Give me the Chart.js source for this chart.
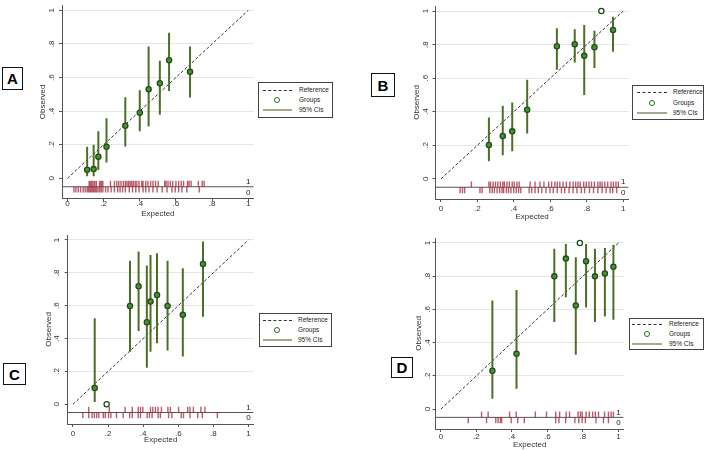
<!DOCTYPE html>
<html><head><meta charset="utf-8">
<script src="https://cdn.jsdelivr.net/npm/chart.js@4.4.1/dist/chart.umd.min.js"></script>
<style>
body{margin:0;width:708px;height:450px;background:#fff;position:relative;overflow:hidden;font-family:"Liberation Sans",Arial,sans-serif;}
canvas{position:absolute;}
.tag{position:absolute;border:1px solid #111;font-weight:bold;font-size:15px;display:flex;align-items:center;justify-content:center;background:#fff;box-sizing:border-box;color:#000;z-index:2;}
.leg{position:absolute;border:1px solid #444;background:#fff;box-sizing:border-box;z-index:2;}
.leg .t{position:absolute;font-size:6.5px;line-height:1;color:#222;transform:translateY(-50%);white-space:nowrap;}
.leg .dash{position:absolute;border-top:1px dashed #333;height:0;}
.leg .ci{position:absolute;border-top:2px solid #a7ab8c;height:0;transform:translateY(-1px);}
.leg .dot{position:absolute;width:4px;height:4px;border:1.3px solid #2d6a1f;border-radius:50%;transform:translate(-50%,-50%);}
</style></head><body>
<script>
// ---- data ----
const tickValues = [0, 0.2, 0.4, 0.6, 0.8, 1];
const tickLabels = ['0', '.2', '.4', '.6', '.8', '1'];
const legendLabels = ['Reference', 'Groups', '95% CIs'];
const panelLetters = ['A', 'B', 'C', 'D'];

const expA = [0.109,0.145,0.171,0.216,0.320,0.400,0.449,0.511,0.562,0.678];
const obsA = [0.051,0.055,0.129,0.188,0.313,0.391,0.530,0.566,0.703,0.634];
const loA  = [0.012,0.012,0.050,0.094,0.190,0.280,0.309,0.378,0.520,0.481];
const hiA  = [0.188,0.200,0.280,0.358,0.483,0.524,0.785,0.700,0.867,0.785];
const rug1A = [0.120,0.127,0.135,0.142,0.151,0.160,0.178,0.184,0.189,0.196,0.238,0.260,0.273,0.284,0.296,0.309,0.320,0.329,0.338,0.347,0.356,0.365,0.375,0.384,0.396,0.411,0.418,0.433,0.445,0.460,0.473,0.487,0.502,0.538,0.545,0.556,0.569,0.582,0.600,0.615,0.629,0.642,0.664,0.673,0.684,0.724,0.745,0.756];
const rug0A = [0.036,0.047,0.060,0.073,0.087,0.098,0.109,0.116,0.124,0.131,0.138,0.145,0.153,0.160,0.169,0.178,0.187,0.196,0.211,0.224,0.242,0.260,0.278,0.291,0.305,0.320,0.342,0.360,0.378,0.396,0.418,0.433,0.451,0.473,0.496,0.524,0.551,0.578,0.596,0.615,0.633,0.660,0.729];

const expB = [0.263,0.339,0.391,0.473,0.636,0.734,0.786,0.842,0.880,0.944];
const obsB = [0.202,0.255,0.283,0.412,0.790,0.802,0.733,0.784,1.000,0.887];
const loB  = [0.105,0.140,0.164,0.270,0.650,0.693,0.500,0.660,null,0.758];
const hiB  = [0.366,0.436,0.455,0.590,0.897,0.891,0.917,0.883,null,0.966];
const rug1B = [0.167,0.263,0.272,0.286,0.299,0.312,0.326,0.339,0.348,0.362,0.375,0.391,0.402,0.417,0.429,0.489,0.516,0.543,0.565,0.591,0.607,0.625,0.638,0.652,0.670,0.688,0.707,0.725,0.739,0.752,0.764,0.783,0.797,0.812,0.826,0.842,0.861,0.873,0.884,0.899,0.915,0.933,0.946,0.960,0.973];
const rug0B = [0.105,0.118,0.130,0.214,0.226,0.268,0.281,0.293,0.308,0.322,0.335,0.344,0.359,0.371,0.384,0.399,0.413,0.426,0.438,0.484,0.498,0.516,0.534,0.553,0.576,0.598,0.616,0.638,0.661,0.679,0.703,0.725,0.746,0.770,0.788,0.815,0.837,0.861,0.884,0.906,0.928,0.942,0.964];

const expC = [0.124,0.192,0.325,0.374,0.421,0.442,0.479,0.539,0.626,0.741];
const obsC = [0.099,0.000,0.598,0.718,0.499,0.625,0.665,0.598,0.544,0.854];
const loC  = [0.014,null,0.320,0.446,0.223,0.320,0.371,0.327,0.290,0.533];
const hiC  = [0.523,null,0.874,0.929,0.844,0.909,0.919,0.874,0.828,0.990];
const rug1C = [0.090,0.207,0.297,0.338,0.372,0.385,0.398,0.442,0.455,0.470,0.485,0.504,0.541,0.555,0.602,0.654,0.667,0.686,0.729,0.752];
const rug0C = [0.056,0.090,0.109,0.122,0.135,0.147,0.173,0.184,0.203,0.216,0.248,0.286,0.323,0.338,0.372,0.385,0.423,0.436,0.451,0.485,0.498,0.545,0.564,0.617,0.630,0.667,0.711,0.737,0.823];

const expD = [0.290,0.426,0.639,0.704,0.760,0.783,0.818,0.868,0.924,0.972];
const obsD = [0.231,0.333,0.799,0.906,0.624,1.000,0.890,0.799,0.817,0.857];
const loD  = [0.062,0.122,0.524,0.673,0.327,null,0.612,0.524,0.558,0.538];
const hiD  = [0.653,0.717,0.966,0.994,0.914,null,0.994,0.966,0.970,0.990];
const rug1D = [0.229,0.266,0.387,0.424,0.532,0.595,0.647,0.669,0.706,0.725,0.773,0.786,0.796,0.818,0.836,0.855,0.870,0.888,0.922,0.944,0.959,0.972];
const rug0D = [0.154,0.257,0.309,0.322,0.335,0.342,0.396,0.433,0.470,0.647,0.665,0.703,0.755,0.777,0.796,0.814,0.874,0.916,0.944];

// ---- layout (pixel targets) ----
const layouts = [
  {top:0,   area:{L:62,    R:256,   T:2,   B:198.5}, yTitleX:43,  xTitleY:214,   xPad:-2.1, yPad:4,
   tag:{x:2,y:67,w:21,h:23}, leg:{x:258,y:82,w:75,h:36,rows:[90,100,110],s0:263,s1:292,dot:277,tx:299}},
  {top:0,   area:{L:435.5, R:630.5, T:6,   B:199},   yTitleX:417, xTitleY:216.7, xPad:2.2,  yPad:3.2,
   tag:{x:371,y:73,w:24,h:24}, leg:{x:632,y:85,w:72,h:35,rows:[92,103,113],s0:637,s1:667,dot:652,tx:673}},
  {top:225, area:{L:67.7,  R:255.6, T:235, B:424},   yTitleX:49,  xTitleY:440,   xPad:2.2,  yPad:4.7,
   tag:{x:3,y:363,w:23,h:22}, leg:{x:259,y:313,w:73,h:34,rows:[319.5,329.5,340],s0:263,s1:292,dot:277,tx:298}},
  {top:225, area:{L:435.6, R:625.7, T:238, B:429},   yTitleX:419, xTitleY:445,   xPad:-0.1, yPad:1.3,
   tag:{x:391,y:357,w:22,h:21}, leg:{x:629,y:318,w:75,h:32,rows:[323.5,333.5,343.5],s0:632,s1:662,dot:647,tx:669}}
];

const series = [
  {exp:expA, obs:obsA, lo:loA, hi:hiA, r1:rug1A, r0:rug0A},
  {exp:expB, obs:obsB, lo:loB, hi:hiB, r1:rug1B, r0:rug0B},
  {exp:expC, obs:obsC, lo:loC, hi:hiC, r1:rug1C, r0:rug0C},
  {exp:expD, obs:obsD, lo:loD, hi:hiD, r1:rug1D, r0:rug0D}
];

const X_MIN = -0.03, X_MAX = 1.03, Y_MIN = -0.12, Y_MAX = 1.03;
const RUG_BASE = -0.05, RUG_UP = -0.015, RUG_DOWN = -0.085;
const HALF_LH = 4.8; // font 8 * 1.2 / 2
const FONT = '"Liberation Sans", Arial, sans-serif';

function segs(xs, a, b) {
  const d = [];
  xs.forEach((x, i) => {
    const y0 = Array.isArray(a) ? a[i] : a;
    const y1 = Array.isArray(b) ? b[i] : b;
    if (y0 == null || y1 == null) return;
    d.push({x, y:y0}, {x, y:y1}, {x, y:null});
  });
  return d;
}

const rugLabels = {
  id: 'rugLabels',
  afterDatasetsDraw(chart) {
    const {ctx, scales:{x, y}} = chart;
    ctx.save();
    ctx.font = '8px ' + FONT;
    ctx.fillStyle = '#222';
    ctx.textAlign = 'center';
    ctx.textBaseline = 'middle';
    ctx.fillText('1', x.getPixelForValue(1.0), y.getPixelForValue(-0.02));
    ctx.fillText('0', x.getPixelForValue(1.0), y.getPixelForValue(-0.085));
    ctx.restore();
  }
};

layouts.forEach((lay, k) => {
  const s = series[k];
  const a = lay.area;
  const left = Math.round(lay.yTitleX - HALF_LH);
  const top = lay.top;
  const width = Math.round(a.R + 3 - left);
  const height = Math.round(lay.xTitleY + HALF_LH - top);
  const cv = document.createElement('canvas');
  cv.width = width; cv.height = height;
  cv.style.left = left + 'px'; cv.style.top = top + 'px';
  cv.style.width = width + 'px'; cv.style.height = height + 'px';
  document.body.appendChild(cv);
  const yW = a.L - left;
  const xH = top + height - a.B;

  new Chart(cv.getContext('2d'), {
    type: 'scatter',
    data: {
      datasets: [
        {label:'Groups', data: s.exp.map((x,i)=>({x, y:s.obs[i]})), showLine:false,
         pointRadius:2.6, pointBorderWidth:1.3, pointBorderColor:'#1f4f16',
         pointBackgroundColor:(c)=> (s.lo[c.dataIndex] == null ? '#ffffff' : '#4c8f36'), order:0},
        {label:'95% CIs', data: segs(s.exp, s.lo, s.hi), showLine:true, borderColor:'#4d6e26', borderWidth:2,
         pointRadius:0, spanGaps:false, order:1},
        {label:'Reference', data:[{x:0,y:0},{x:1,y:1}], showLine:true, borderColor:'#333', borderWidth:1,
         borderDash:[3,2], pointRadius:0, order:2},
        {label:'rug1', data: segs(s.r1, RUG_BASE, RUG_UP), showLine:true, borderColor:'rgba(160,28,50,0.72)',
         borderWidth:1.4, pointRadius:0, spanGaps:false, order:3},
        {label:'rug0', data: segs(s.r0, RUG_BASE, RUG_DOWN), showLine:true, borderColor:'rgba(160,28,50,0.72)',
         borderWidth:1.4, pointRadius:0, spanGaps:false, order:3},
        {label:'base', data:[{x:X_MIN,y:RUG_BASE},{x:X_MAX,y:RUG_BASE}], showLine:true, borderColor:'#555',
         borderWidth:1, pointRadius:0, order:4}
      ]
    },
    options: {
      responsive:false, animation:false, events:[],
      layout:{padding:{top:a.T - top, right:left + width - a.R, left:0, bottom:0}},
      plugins:{legend:{display:false}, tooltip:{enabled:false}},
      scales:{
        x:{type:'linear', min:X_MIN, max:X_MAX,
           afterBuildTicks:(sc)=>{ sc.ticks = tickValues.map(v=>({value:v})); },
           afterFit:(sc)=>{ sc.height = xH; sc.paddingLeft = 0; sc.paddingRight = 0; },
           ticks:{autoSkip:false, maxRotation:0, minRotation:0, padding:lay.xPad, color:'#333',
                  font:{size:8, family:FONT}, callback:(v,i)=>tickLabels[i]},
           grid:{drawOnChartArea:false, drawTicks:true, tickLength:3, tickColor:'#555'},
           border:{color:'#555', width:1},
           title:{display:true, text:'Expected', padding:0, color:'#333', font:{size:8, family:FONT}}},
        y:{type:'linear', min:Y_MIN, max:Y_MAX,
           afterBuildTicks:(sc)=>{ sc.ticks = tickValues.map(v=>({value:v})); },
           afterFit:(sc)=>{ sc.width = yW; sc.paddingTop = 0; sc.paddingBottom = 0; },
           ticks:{autoSkip:false, minRotation:90, maxRotation:90, crossAlign:'center', padding:lay.yPad, color:'#333',
                  font:{size:8, family:FONT}, callback:(v,i)=>tickLabels[i]},
           grid:{drawOnChartArea:true, drawTicks:true, tickLength:3, tickColor:'#555',
                 color:(c)=> (c.tick && c.tick.value > 0) ? '#e6e6e6' : 'rgba(0,0,0,0)'},
           border:{color:'#555', width:1},
           title:{display:true, text:'Observed', padding:0, color:'#333', font:{size:8, family:FONT}}}
      }
    },
    plugins:[rugLabels]
  });

  // panel tag
  const t = document.createElement('div');
  t.className = 'tag';
  Object.assign(t.style, {left:lay.tag.x+'px', top:lay.tag.y+'px', width:lay.tag.w+'px', height:lay.tag.h+'px'});
  t.textContent = panelLetters[k];
  document.body.appendChild(t);

  // legend box
  const L = lay.leg;
  const box = document.createElement('div');
  box.className = 'leg';
  Object.assign(box.style, {left:L.x+'px', top:L.y+'px', width:L.w+'px', height:L.h+'px'});
  const rel = (v) => v + 'px';
  const r = L.rows.map(y => y - L.y - 1);
  const sx0 = L.s0 - L.x - 1, sx1 = L.s1 - L.x - 1, dx = L.dot - L.x - 1, tx = L.tx - L.x - 1;
  const dash = document.createElement('div'); dash.className = 'dash';
  Object.assign(dash.style, {left:rel(sx0), top:rel(r[0]), width:rel(sx1 - sx0)});
  const dot = document.createElement('div'); dot.className = 'dot';
  Object.assign(dot.style, {left:rel(dx), top:rel(r[1])});
  const ci = document.createElement('div'); ci.className = 'ci';
  Object.assign(ci.style, {left:rel(sx0), top:rel(r[2]), width:rel(sx1 - sx0)});
  box.append(dash, dot, ci);
  legendLabels.forEach((txt, i) => {
    const e = document.createElement('div'); e.className = 't';
    e.style.left = rel(tx); e.style.top = rel(r[i]);
    e.textContent = txt;
    box.appendChild(e);
  });
  document.body.appendChild(box);
});
</script>
</body></html>
